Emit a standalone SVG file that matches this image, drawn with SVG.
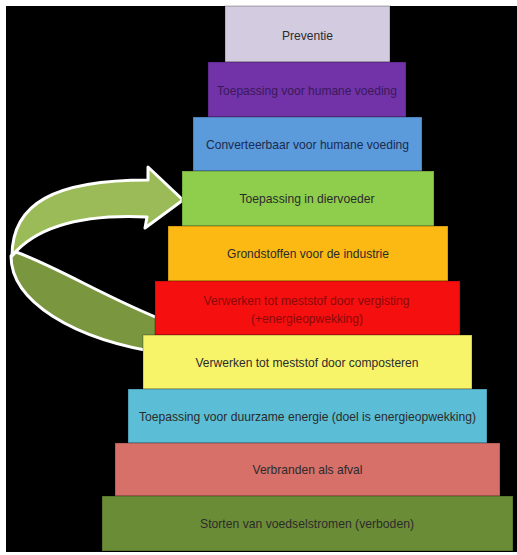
<svg xmlns="http://www.w3.org/2000/svg" width="517" height="555" viewBox="0 0 517 555">
<style>
.lvl rect{stroke:rgba(0,0,0,0.3);stroke-width:1}
.lvl text{font-family:"Liberation Sans",Arial,sans-serif;font-size:13.5px;text-anchor:middle;fill:#2b2b2b}
.band{stroke:#ffffff;stroke-width:3;stroke-linejoin:round}
</style>
<rect x="0" y="0" width="517" height="555" fill="#ffffff"/>
<rect x="6" y="6" width="511" height="546" fill="#000000"/>
<g id="connectors">
<path class="band" fill="#7a963e" d="M16,252 C60,268 110,300 168,322 L168,354 C70,340 11,300 11,256 Z"/>
<path class="band" fill="#9bbb59" d="M12,256 C12,203 55,180 148,180 L148,167 L183,200 L145,228 L147,217 C80,214 35,228 12,256 Z"/>
</g>
<g id="n1" class="lvl"><rect x="225" y="6" width="165" height="56" fill="#d3cbe0"/><text x="307.5" y="40" textLength="51" lengthAdjust="spacingAndGlyphs">Preventie</text></g>
<g id="n2" class="lvl"><rect x="208" y="62" width="198" height="55" fill="#7232a8"/><text x="307" y="95" style="fill:#3a1a5a" textLength="180" lengthAdjust="spacingAndGlyphs">Toepassing voor humane voeding</text></g>
<g id="n3" class="lvl"><rect x="193" y="117" width="229" height="54" fill="#5b9bdb"/><text x="307.5" y="149" style="fill:#1a2a50" textLength="203" lengthAdjust="spacingAndGlyphs">Converteerbaar voor humane voeding</text></g>
<g id="n4" class="lvl"><rect x="182" y="171" width="252" height="55" fill="#8fce4c"/><text x="307" y="203" textLength="135" lengthAdjust="spacingAndGlyphs">Toepassing in diervoeder</text></g>
<g id="n5" class="lvl"><rect x="168" y="226" width="280" height="55" fill="#fdb913"/><text x="308" y="258" textLength="162" lengthAdjust="spacingAndGlyphs">Grondstoffen voor de industrie</text></g>
<g id="n6" class="lvl"><rect x="155" y="281" width="305" height="54" fill="#f50f0f"/><text x="306.5" y="305" style="fill:#8a0a0a" textLength="206" lengthAdjust="spacingAndGlyphs">Verwerken tot meststof door vergisting</text><text x="307" y="323" style="fill:#8a0a0a" textLength="112" lengthAdjust="spacingAndGlyphs">(+energieopwekking)</text></g>
<g id="n7" class="lvl"><rect x="143" y="335" width="329" height="54" fill="#f8f46a"/><text x="307" y="367" textLength="223" lengthAdjust="spacingAndGlyphs">Verwerken tot meststof door composteren</text></g>
<g id="n8" class="lvl"><rect x="128" y="389" width="359" height="54" fill="#5bbdd6"/><text x="307.5" y="421" textLength="337" lengthAdjust="spacingAndGlyphs">Toepassing voor duurzame energie (doel is energieopwekking)</text></g>
<g id="n9" class="lvl"><rect x="115" y="443" width="385" height="53" fill="#d8706a"/><text x="307.5" y="474" textLength="110" lengthAdjust="spacingAndGlyphs">Verbranden als afval</text></g>
<g id="n10" class="lvl"><rect x="102" y="496" width="411" height="55" fill="#6b8c36"/><text x="307" y="528" textLength="214" lengthAdjust="spacingAndGlyphs">Storten van voedselstromen (verboden)</text></g>
</svg>
